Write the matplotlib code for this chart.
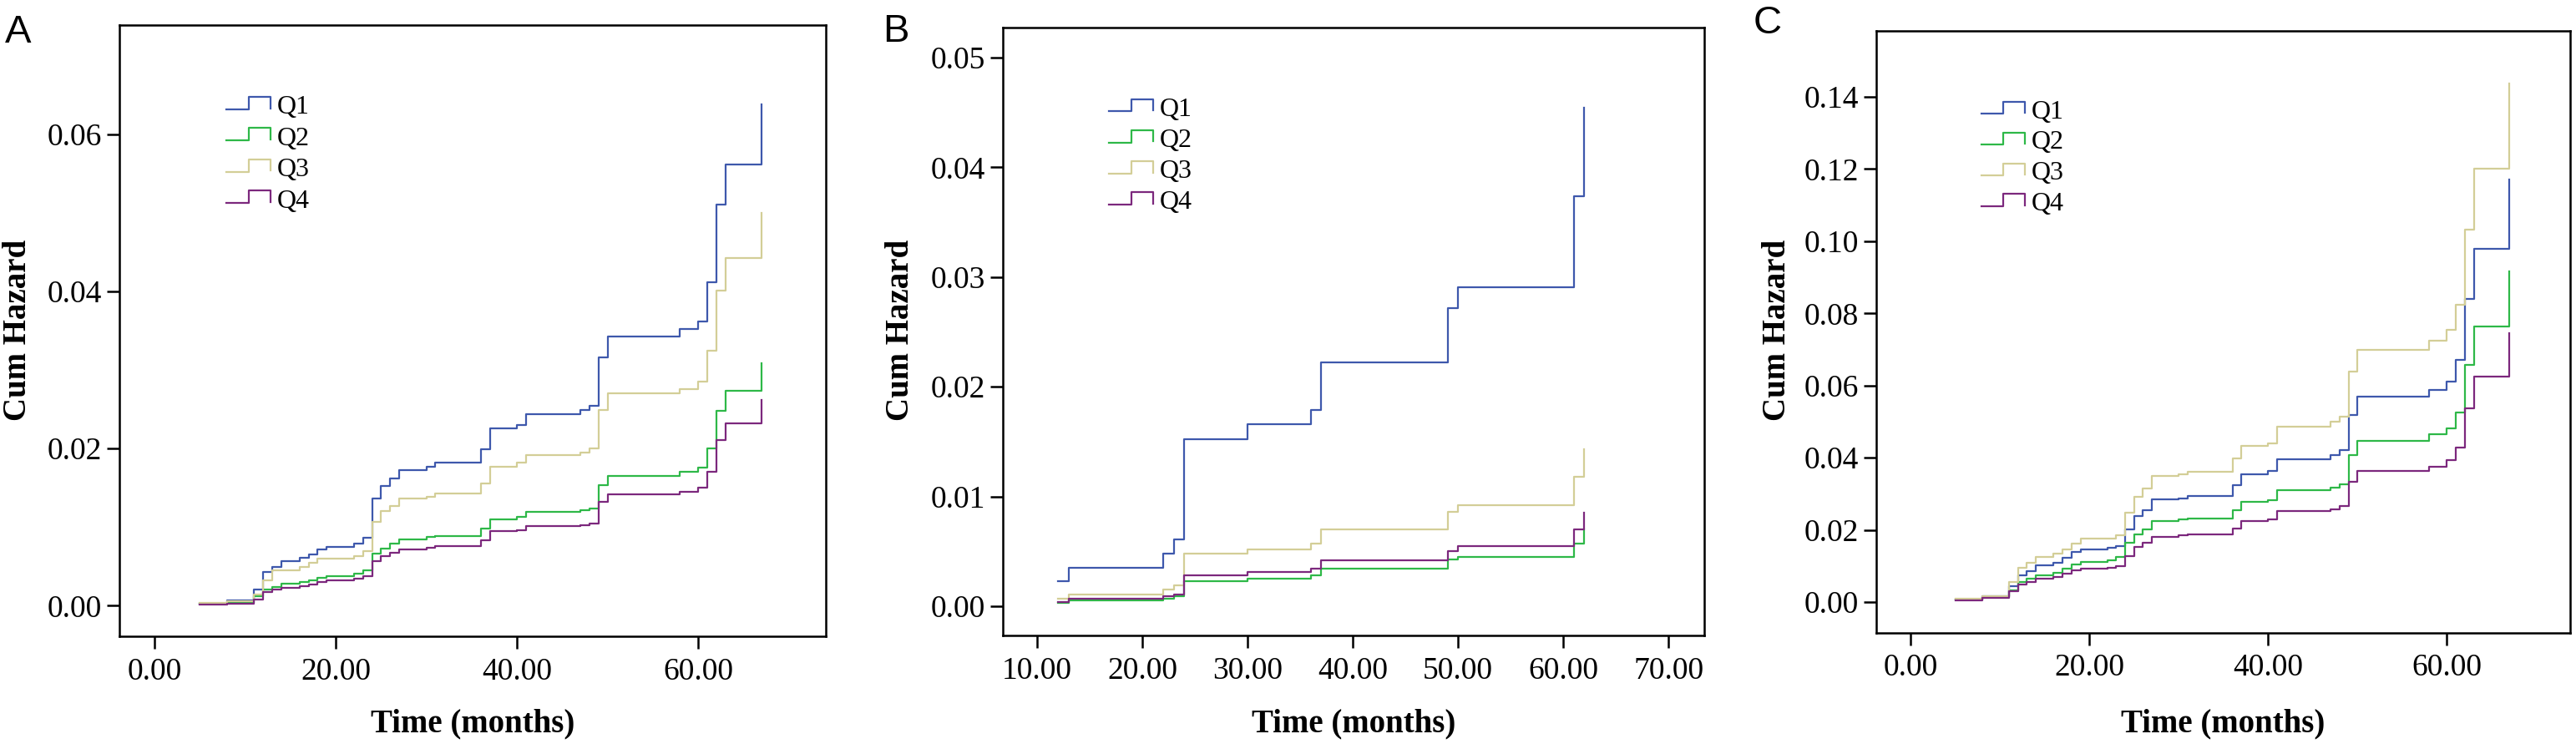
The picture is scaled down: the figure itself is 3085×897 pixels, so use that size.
import matplotlib
matplotlib.use('Agg')
import matplotlib.pyplot as plt
from matplotlib.ticker import FormatStrFormatter

# step times (months) and cumulative hazard per quartile
months_a = [5, 8, 11, 12, 13, 14, 16, 17, 18, 19, 22, 23, 24, 25, 26, 27,
            30, 31, 36, 37, 40, 41, 47, 48, 49, 50, 58, 60, 61, 62, 63, 67]
q1_a = [0.0002, 0.0007, 0.0020, 0.0043, 0.0049, 0.0057, 0.0061, 0.0065, 0.0071, 0.0075, 0.0079,
        0.0086, 0.0136, 0.0152, 0.0162, 0.0173, 0.0177, 0.0182, 0.0199, 0.0226, 0.0230, 0.0244,
        0.0249, 0.0254, 0.0316, 0.0343, 0.0352, 0.0362, 0.0412, 0.0510, 0.0562, 0.0638]
q2_a = [0.0002, 0.0004, 0.0012, 0.0020, 0.0024, 0.0028, 0.0030, 0.0032, 0.0035, 0.0038, 0.0041,
        0.0045, 0.0066, 0.0073, 0.0079, 0.0084, 0.0087, 0.0089, 0.0098, 0.0110, 0.0113, 0.0119,
        0.0121, 0.0124, 0.0153, 0.0165, 0.0170, 0.0176, 0.0200, 0.0248, 0.0273, 0.0309]
q3_a = [0.0004, 0.0006, 0.0014, 0.0032, 0.0045, 0.0045, 0.0049, 0.0054, 0.0060, 0.0060, 0.0063,
        0.0069, 0.0107, 0.0120, 0.0127, 0.0136, 0.0139, 0.0143, 0.0156, 0.0177, 0.0182, 0.0192,
        0.0195, 0.0200, 0.0249, 0.0270, 0.0276, 0.0285, 0.0324, 0.0401, 0.0442, 0.0500]
q4_a = [0.0001, 0.0002, 0.0008, 0.0017, 0.0020, 0.0023, 0.0025, 0.0027, 0.0030, 0.0032, 0.0034,
        0.0037, 0.0057, 0.0063, 0.0067, 0.0072, 0.0074, 0.0076, 0.0083, 0.0095, 0.0096, 0.0101,
        0.0102, 0.0105, 0.0132, 0.0142, 0.0145, 0.0150, 0.0170, 0.0211, 0.0232, 0.0262]

months_b = [12, 13, 22, 23, 24, 30, 36, 37, 49, 50, 61, 62]
q1_b = [0.0023, 0.0035, 0.0048, 0.0061, 0.0152, 0.0166, 0.0179, 0.0222, 0.0272, 0.0291, 0.0374, 0.0454]
q2_b = [0.0003, 0.0005, 0.0007, 0.0009, 0.0023, 0.0025, 0.0028, 0.0034, 0.0043, 0.0045, 0.0057, 0.0070]
q3_b = [0.0007, 0.0011, 0.0015, 0.0019, 0.0048, 0.0052, 0.0057, 0.0070, 0.0086, 0.0092, 0.0118, 0.0143]
q4_b = [0.0004, 0.0007, 0.0009, 0.0011, 0.0028, 0.0031, 0.0034, 0.0042, 0.0050, 0.0055, 0.0070, 0.0085]

months_c = [5, 8, 11, 12, 13, 14, 16, 17, 18, 19, 22, 23, 24, 25, 26, 27,
            30, 31, 36, 37, 40, 41, 47, 48, 49, 50, 58, 60, 61, 62, 63, 67]
q1_c = [0.0007, 0.0016, 0.0045, 0.0075, 0.0086, 0.0102, 0.0109, 0.0122, 0.0138, 0.0146, 0.0151,
        0.0155, 0.0201, 0.0238, 0.0254, 0.0285, 0.0287, 0.0294, 0.0323, 0.0354, 0.0363, 0.0396,
        0.0407, 0.0420, 0.0519, 0.0570, 0.0588, 0.0612, 0.0672, 0.0840, 0.0980, 0.1172]
q2_c = [0.0007, 0.0013, 0.0033, 0.0056, 0.0065, 0.0075, 0.0082, 0.0093, 0.0105, 0.0111, 0.0115,
        0.0125, 0.0164, 0.0188, 0.0201, 0.0224, 0.0228, 0.0232, 0.0254, 0.0278, 0.0283, 0.0311,
        0.0317, 0.0327, 0.0407, 0.0446, 0.0464, 0.0482, 0.0526, 0.0658, 0.0764, 0.0917]
q3_c = [0.0009, 0.0016, 0.0056, 0.0095, 0.0109, 0.0126, 0.0135, 0.0146, 0.0162, 0.0175, 0.0175,
        0.0185, 0.0248, 0.0291, 0.0314, 0.0350, 0.0354, 0.0360, 0.0397, 0.0433, 0.0440, 0.0486,
        0.0500, 0.0513, 0.0638, 0.0698, 0.0725, 0.0754, 0.0824, 0.1032, 0.1201, 0.1436]
q4_c = [0.0005, 0.0011, 0.0029, 0.0049, 0.0056, 0.0065, 0.0069, 0.0078, 0.0089, 0.0093, 0.0095,
        0.0099, 0.0128, 0.0152, 0.0164, 0.0181, 0.0184, 0.0188, 0.0204, 0.0224, 0.0228, 0.0252,
        0.0257, 0.0265, 0.0334, 0.0363, 0.0376, 0.0393, 0.0429, 0.0536, 0.0625, 0.0744]

labels = ['Q1', 'Q2', 'Q3', 'Q4']
xticks_a = [0, 20, 40, 60]
xticks_b = [10, 20, 30, 40, 50, 60, 70]
yticks_a = [0.00, 0.02, 0.04, 0.06]
yticks_b = [0.00, 0.01, 0.02, 0.03, 0.04, 0.05]
yticks_c = [0.00, 0.02, 0.04, 0.06, 0.08, 0.10, 0.12, 0.14]

colors = ['#3e58ac', '#2eb848', '#d3ce97', '#7c287d']
serif = 'Liberation Serif'

fig = plt.figure(figsize=(30.85, 8.97), dpi=100)


def panel(rect, months, series, xticks, yticks, xlim, ylim):
    ax = fig.add_axes(rect)
    for vals, c in zip(series, colors):
        ax.plot(months, vals, drawstyle='steps-post', color=c, lw=1.6)
    ax.set_xlim(xlim)
    ax.set_ylim(ylim)
    ax.set_xticks(xticks)
    ax.set_yticks(yticks)
    ax.xaxis.set_major_formatter(FormatStrFormatter('%.2f'))
    ax.yaxis.set_major_formatter(FormatStrFormatter('%.2f'))
    ax.tick_params(direction='out', length=11, width=1.8, labelsize=27, pad=4)
    ax.tick_params(axis='x', pad=7)
    for lab in ax.get_xticklabels() + ax.get_yticklabels():
        lab.set_family(serif)
    ax.tick_params(top=False, right=False)
    for s in ax.spines.values():
        s.set_linewidth(1.8)

    # step shaped legend keys, as SPSS draws them
    for i, (lab, c) in enumerate(zip(labels, colors)):
        lo = 0.862 - i * 0.0512
        hi = lo + 0.0205
        ax.plot([0.151, 0.183, 0.183, 0.214, 0.214], [lo, lo, hi, hi, lo + 0.002],
                color=c, lw=1.6, transform=ax.transAxes, clip_on=False)
        ax.text(0.223, lo - 0.007, lab, transform=ax.transAxes, fontsize=23,
                family=serif, va='baseline', ha='left')
    return ax


ax_a = panel([0.0464, 0.1505, 0.2742, 0.8161], months_a, [q1_a, q2_a, q3_a, q4_a],
             xticks_a, yticks_a, (-3.87, 74.1), (-0.0039, 0.0739))
ax_b = panel([0.3893, 0.1516, 0.2723, 0.8116], months_b, [q1_b, q2_b, q3_b, q4_b],
             xticks_b, yticks_b, (6.75, 73.4), (-0.00266, 0.05274))
ax_c = panel([0.7284, 0.1550, 0.2694, 0.8038], months_c, [q1_c, q2_c, q3_c, q4_c],
             xticks_a, yticks_c, (-3.83, 73.8), (-0.00856, 0.1583))

# axis titles
for x, ax in [(22, ax_a), (1079, ax_b), (2128, ax_c)]:
    fig.text(x / 3085, 1 - 395 / 897, 'Cum Hazard', rotation=90, fontsize=28,
             fontweight='bold', family=serif, ha='center', va='center')
    pos = ax.get_position()
    fig.text((pos.x0 + pos.x1) / 2, 1 - 867 / 897, 'Time (months)', fontsize=28,
             fontweight='bold', family=serif, ha='center', va='center')

# panel letters
for x, y, letter in [(6, 51, 'A'), (1057, 50, 'B'), (2100, 40, 'C')]:
    fig.text(x / 3085, 1 - y / 897, letter, fontsize=34, family='Liberation Sans',
             ha='left', va='baseline')

fig.savefig('out.png', dpi=100)
